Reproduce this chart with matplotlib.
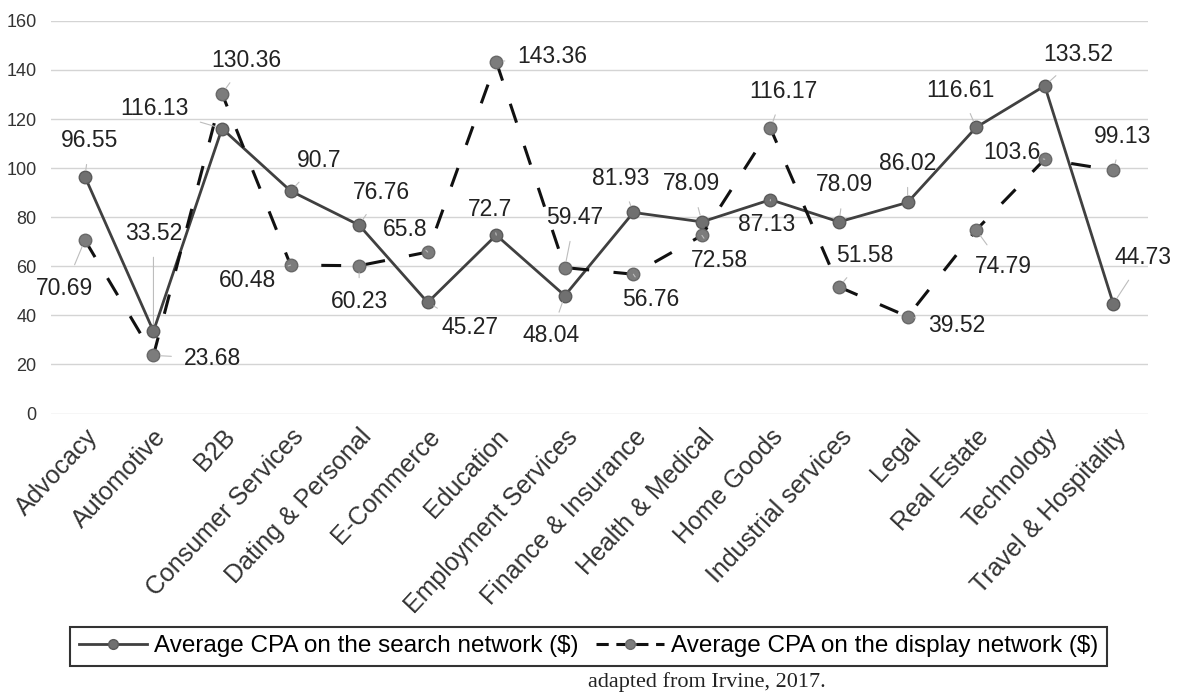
import numpy as np
import matplotlib
matplotlib.use('Agg')
import matplotlib.pyplot as plt
from matplotlib.lines import Line2D

plt.rcParams['font.family'] = ['Liberation Sans', 'DejaVu Sans']

# categories and values
categories = ['Advocacy', 'Automotive', 'B2B', 'Consumer Services', 'Dating & Personal',
              'E-Commerce', 'Education', 'Employment Services', 'Finance & Insurance',
              'Health & Medical', 'Home Goods', 'Industrial services', 'Legal',
              'Real Estate', 'Technology', 'Travel & Hospitality']
search_cpa = [96.55, 33.52, 116.13, 90.7, 76.76, 45.27, 72.7, 48.04,
              81.93, 78.09, 87.13, 78.09, 86.02, 116.61, 133.52, 44.73]
display_cpa = [70.69, 23.68, 130.36, 60.48, 60.23, 65.8, 143.36, 59.47,
               56.76, 72.58, 116.17, 51.58, 39.52, 74.79, 103.6, 99.13]
search_labels = ['96.55', '33.52', '116.13', '90.7', '76.76', '45.27', '72.7', '48.04',
                 '81.93', '78.09', '87.13', '78.09', '86.02', '116.61', '133.52', '44.73']
display_labels = ['70.69', '23.68', '130.36', '60.48', '60.23', '65.8', '143.36', '59.47',
                  '56.76', '72.58', '116.17', '51.58', '39.52', '74.79', '103.6', '99.13']

# where each data label sits relative to its marker (pixels, up is positive)
search_off = [(5, 36), (0, 98), (-68, 20), (29, 30), (22, 33), (42, -25), (-6, 26), (-14, -40),
              (-13, 34), (-10, 38), (-4, -25), (5, 37), (0, 39), (-16, 37), (34, 31), (30, 46)]
display_off = [(-20, -48), (59, -3), (24, 33), (-43, -15), (0, -36), (-23, 23), (56, 5), (10, 50),
               (17, -25), (18, -25), (13, 37), (26, 31), (49, -9), (27, -37), (-33, 7), (9, 34)]

fig = plt.figure(figsize=(11.77, 6.95), dpi=100)
ax = fig.add_axes([0.043, 0.405, 0.932, 0.565])

x = np.arange(len(categories))
ax.plot(x, search_cpa, color='#404040', lw=2, marker='o', ms=9,
        mfc='#707070', mec='#5a5a5a', zorder=3)
ax.plot(x, display_cpa, color='#111111', lw=2.2, ls=(0, (6.5, 8)), marker='o', ms=9,
        mfc='#7c7c7c', mec='#686868', zorder=3)

for vals, labs, offs in [(search_cpa, search_labels, search_off),
                         (display_cpa, display_labels, display_off)]:
    for xi, v, lab, (dx, dy) in zip(x, vals, labs, offs):
        ax.annotate(lab, (xi, v), xytext=(dx, dy), textcoords='offset pixels',
                    ha='center', va='center', fontsize=16.5, color='#222222', zorder=4,
                    arrowprops=dict(arrowstyle='-', color='#bdbdbd', lw=0.8,
                                    shrinkA=7, shrinkB=5))

ax.set_xlim(-0.5, len(categories) - 0.5)
ax.set_ylim(0, 160)
ax.set_yticks(np.arange(0, 161, 20))
ax.yaxis.grid(True, color='#d4d4d4', lw=1)
ax.set_axisbelow(True)
for s in ax.spines.values():
    s.set_visible(False)
ax.tick_params(axis='both', length=0, colors='#333333')
ax.tick_params(axis='y', labelsize=13, pad=10)
ax.tick_params(axis='x', pad=8)
ax.set_xticks(x)
ax.set_xticklabels(categories, rotation=47, ha='right', va='top',
                   rotation_mode='anchor', fontsize=18)

handles = [Line2D([], [], color='#404040', lw=2, marker='o', ms=7,
                  mfc='#707070', mec='#5a5a5a'),
           Line2D([], [], color='#111111', lw=2.2, ls=(0, (4, 2.5)), marker='o', ms=7,
                  mfc='#7c7c7c', mec='#686868')]
leg = fig.legend(handles, ['Average CPA on the search network ($)',
                           'Average CPA on the display network ($)'],
                 loc='center', bbox_to_anchor=(0.5, 0.07), ncol=2, fontsize=17.5,
                 frameon=True, fancybox=False, edgecolor='black', handlelength=2.8,
                 columnspacing=0.7, handletextpad=0.3, borderpad=0.35)
leg.get_frame().set_linewidth(1.5)

fig.text(0.50, 0.004, 'adapted from Irvine, 2017.', family='Liberation Serif',
         fontsize=16, ha='left', va='bottom', color='#222222')

fig.savefig('out.png', dpi=100)
